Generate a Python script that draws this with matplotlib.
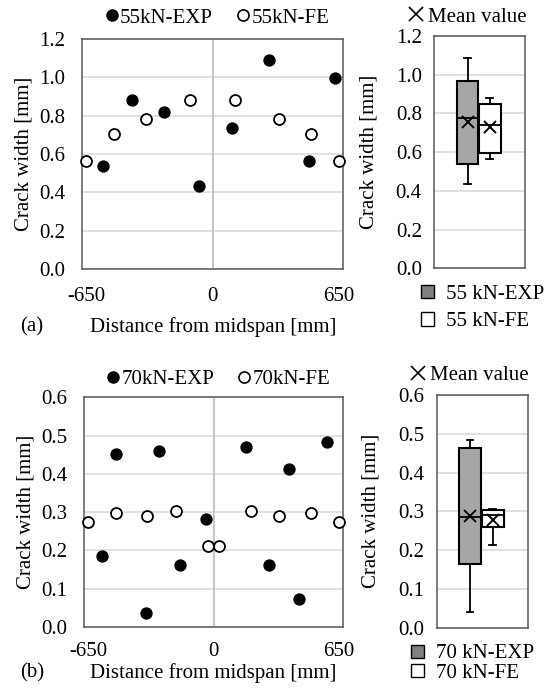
import numpy as np
import matplotlib
matplotlib.use("Agg")
import matplotlib.pyplot as plt
from matplotlib.lines import Line2D
from matplotlib.patches import Patch

plt.rcParams['font.family'] = ['Liberation Serif', 'DejaVu Serif']
plt.rcParams['axes.unicode_minus'] = False

# ---------------- data ----------------
exp55_x = [-566, -414, -249, -70, 103, 291, 500, 631]
exp55_y = [0.535, 0.880, 0.821, 0.434, 0.735, 1.090, 0.564, 0.998]
fe55_x = [-650, -507, -344, -115, 115, 344, 507, 650]
fe55_y = [0.564, 0.705, 0.783, 0.882, 0.882, 0.783, 0.705, 0.564]

exp70_x = [-580, -505, -351, -282, -175, -41, 166, 288, 392, 443, 587]
exp70_y = [0.186, 0.453, 0.037, 0.461, 0.163, 0.283, 0.471, 0.162, 0.414, 0.073, 0.482]
fe70_x = [-650, -506, -346, -197, -28, 29, 197, 338, 504, 650]
fe70_y = [0.274, 0.298, 0.290, 0.303, 0.211, 0.211, 0.303, 0.290, 0.298, 0.274]

# box statistics: [EXP, FE]
box55_whislo = [0.435, 0.565]
box55_q1 = [0.538, 0.598]
box55_med = [0.775, 0.741]
box55_q3 = [0.967, 0.851]
box55_whishi = [1.087, 0.878]
box55_mean = [0.755, 0.732]

box70_whislo = [0.040, 0.213]
box70_q1 = [0.164, 0.259]
box70_med = [0.285, 0.291]
box70_q3 = [0.464, 0.303]
box70_whishi = [0.483, 0.306]
box70_mean = [0.289, 0.277]

xticks = [-650, 0, 650]
yticks55 = [0.0, 0.2, 0.4, 0.6, 0.8, 1.0, 1.2]
yticks70 = [0.0, 0.1, 0.2, 0.3, 0.4, 0.5, 0.6]

labels55 = ['55kN-EXP', '55kN-FE']
labels70 = ['70kN-EXP', '70kN-FE']
boxlabels55 = ['55 kN-EXP', '55 kN-FE']
boxlabels70 = ['70 kN-EXP', '70 kN-FE']

# ---------------- style ----------------
W, H = 555, 693
FS = 15
FRAME = '#595959'
GRID = '#d9d9d9'
ZERO = '#bfbfbf'
BOXGRAY = '#a6a6a6'
LEGGRAY = '#808080'

fig = plt.figure(figsize=(W / 100, H / 100), dpi=100)


def px_axes(l, r, t, b):
    return fig.add_axes([l / W, 1 - b / H, (r - l) / W, (b - t) / H])


def style_frame(ax):
    for s in ax.spines.values():
        s.set_color(FRAME)
        s.set_linewidth(1.1)
    ax.tick_params(length=0, labelsize=FS)
    ax.set_axisbelow(True)


def scatter_panel(ax, ex, ey, fx, fy, yticks, ylim, fmt, xpad):
    style_frame(ax)
    ax.set_xlim(-673, 673)
    ax.set_ylim(*ylim)
    ax.set_xticks(xticks)
    ax.set_xticklabels([str(v) for v in xticks])
    ax.set_yticks(yticks)
    ax.set_yticklabels([fmt.format(v) for v in yticks])
    ax.tick_params(axis='y', pad=12)
    ax.tick_params(axis='x', pad=xpad)
    ax.yaxis.grid(True, color=GRID, lw=1.1)
    ax.axvline(0, color=ZERO, lw=1.3, zorder=1)
    ax.scatter(ex, ey, s=62, color='black', zorder=3, clip_on=False)
    ax.scatter(fx, fy, s=62, facecolor='white', edgecolor='black', lw=1.3,
               zorder=3, clip_on=False)
    ax.set_ylabel('Crack width [mm]', fontsize=FS)
    ax.yaxis.set_label_coords(-0.184, 0.5)


def box_panel(ax, lo, q1, med, q3, hi, mean, yticks, ylim, fmt):
    style_frame(ax)
    stats = []
    for i in range(2):
        stats.append(dict(whislo=lo[i], q1=q1[i], med=med[i], q3=q3[i],
                          whishi=hi[i], mean=mean[i], fliers=[]))
    bp = ax.bxp(stats, positions=[1, 2], widths=0.98, patch_artist=True,
                showmeans=True, showfliers=False, capwidths=0.3,
                boxprops=dict(edgecolor='black', linewidth=1.5),
                medianprops=dict(color='black', linewidth=1.3),
                whiskerprops=dict(color='black', linewidth=1.3),
                capprops=dict(color='black', linewidth=1.3),
                meanprops=dict(marker='x', markersize=9, markeredgecolor='black',
                               markeredgewidth=1.4))
    bp['boxes'][0].set_facecolor(BOXGRAY)
    bp['boxes'][1].set_facecolor('white')
    for art in bp['boxes'] + bp['medians'] + bp['whiskers'] + bp['caps'] + bp['means']:
        art.set_zorder(3)
    ax.set_xlim(-0.49, 3.58)
    ax.set_ylim(*ylim)
    ax.set_xticks([])
    ax.set_yticks(yticks)
    ax.set_yticklabels([fmt.format(v) for v in yticks])
    ax.tick_params(axis='y', pad=9)
    ax.yaxis.grid(True, color=GRID, lw=1.1)
    ax.set_ylabel('Crack width [mm]', fontsize=FS)
    ax.yaxis.set_label_coords(-0.62, 0.5)


def scatter_legend(labels, cx, cy):
    handles = [Line2D([], [], ls='none', marker='o', ms=8, mfc='black', mec='black'),
               Line2D([], [], ls='none', marker='o', ms=8, mfc='white', mec='black', mew=1.2)]
    fig.legend(handles, labels, loc='center', bbox_to_anchor=(cx / W, 1 - cy / H),
               bbox_transform=fig.transFigure, ncol=2, frameon=False, fontsize=FS,
               handlelength=0.7, handletextpad=0.05, columnspacing=1.1, borderpad=0,
               borderaxespad=0)


def mean_legend(cx, cy):
    h = [Line2D([], [], ls='none', marker='x', ms=10, mec='black', mew=1.2)]
    fig.legend(h, ['Mean value'], loc='center', bbox_to_anchor=(cx / W, 1 - cy / H),
               bbox_transform=fig.transFigure, frameon=False, fontsize=FS,
               handlelength=0.8, handletextpad=0.2, borderpad=0, borderaxespad=0)


def box_legend(labels, lx, cy, spacing):
    h = [Patch(facecolor=LEGGRAY, edgecolor='black', lw=1.0),
         Patch(facecolor='white', edgecolor='black', lw=1.0)]
    fig.legend(h, labels, loc='center left', bbox_to_anchor=(lx / W, 1 - cy / H),
               bbox_transform=fig.transFigure, frameon=False, fontsize=FS,
               handlelength=0.6, handleheight=0.6, handletextpad=0.6,
               labelspacing=spacing, borderpad=0, borderaxespad=0)


# ---------------- panel (a) ----------------
ax1 = px_axes(82, 343, 39, 269)
scatter_panel(ax1, exp55_x, exp55_y, fe55_x, fe55_y, yticks55, (0, 1.2), '{:.1f}', 13)
ax2 = px_axes(434.3, 525, 36, 268.3)
box_panel(ax2, box55_whislo, box55_q1, box55_med, box55_q3, box55_whishi, box55_mean,
          yticks55, (0, 1.2), '{:.1f}')
scatter_legend(labels55, 217, 18)
mean_legend(467, 17)
box_legend(boxlabels55, 421, 308, 0.42)
fig.text(213 / W, 1 - 327 / H, 'Distance from midspan [mm]', fontsize=FS,
         ha='center', va='center')
fig.text(32 / W, 1 - 327 / H, '(a)', fontsize=FS, ha='center', va='center')

# ---------------- panel (b) ----------------
ax3 = px_axes(83.7, 343.3, 397.3, 627)
scatter_panel(ax3, exp70_x, exp70_y, fe70_x, fe70_y, yticks70, (0, 0.6), '{:.1f}', 11)
ax4 = px_axes(436.7, 528, 395, 627.7)
box_panel(ax4, box70_whislo, box70_q1, box70_med, box70_q3, box70_whishi, box70_mean,
          yticks70, (0, 0.6), '{:.1f}')
scatter_legend(labels70, 218, 379)
mean_legend(469, 375)
box_legend(boxlabels70, 411, 663.5, 0.0)
fig.text(213 / W, 1 - 673 / H, 'Distance from midspan [mm]', fontsize=FS,
         ha='center', va='center')
fig.text(32 / W, 1 - 673 / H, '(b)', fontsize=FS, ha='center', va='center')

fig.savefig('out.png', dpi=100)
